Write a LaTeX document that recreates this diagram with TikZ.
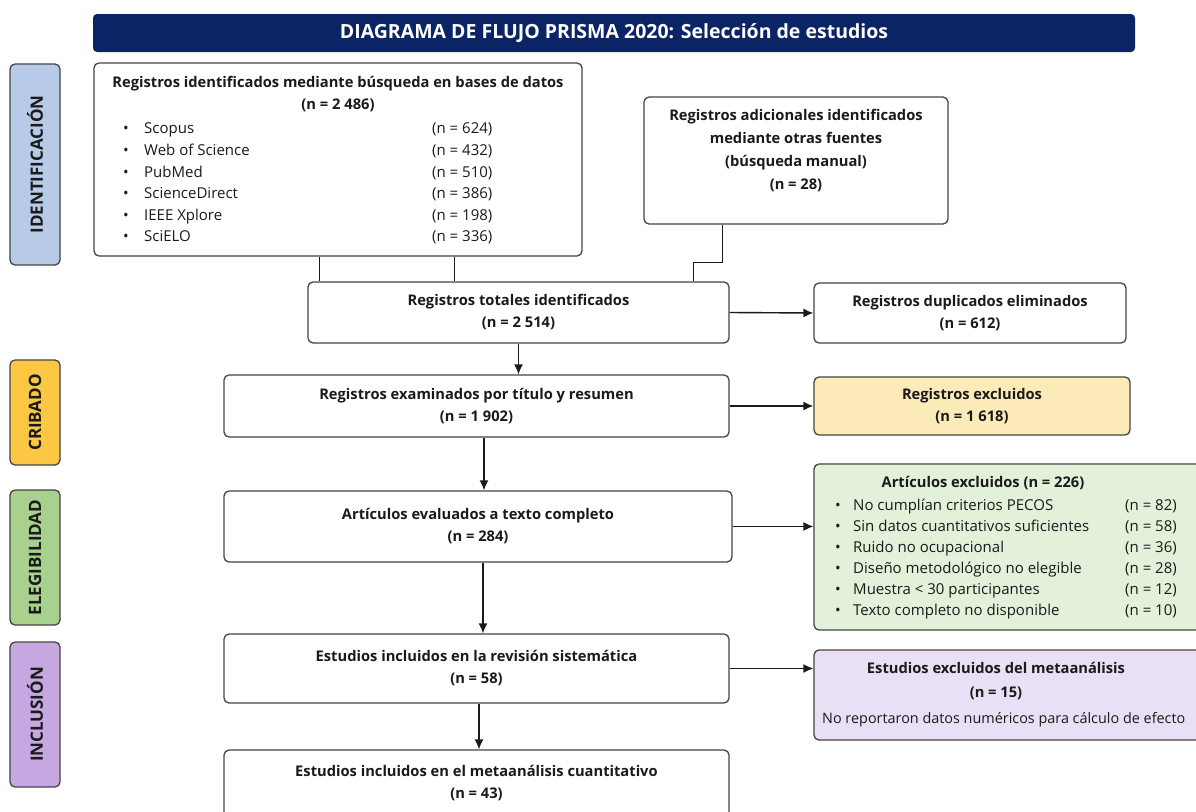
\documentclass[tikz,border=0pt]{standalone}
\usepackage{fontspec}
\setmainfont{Open Sans}
\usetikzlibrary{arrows.meta,positioning}

\definecolor{navy}{HTML}{0B2466}
\definecolor{edge}{HTML}{454545}
\definecolor{ink}{HTML}{1A1A1A}
\definecolor{idblue}{HTML}{B7CBE8}
\definecolor{cribyellow}{HTML}{FCC844}
\definecolor{eleggreen}{HTML}{A9D18E}
\definecolor{inclpurple}{HTML}{C6A7E2}
\definecolor{exclyellow}{HTML}{FCEBB8}
\definecolor{exclgreen}{HTML}{E3F0DA}
\definecolor{exclpurple}{HTML}{EAE0F5}

\begin{document}
\begin{tikzpicture}[x=1pt,y=-1pt,
    box/.style={draw=edge,line width=1.3pt,rounded corners=5pt,fill=white,inner sep=0pt,text=ink},
    phase/.style={draw=edge,line width=1.3pt,rounded corners=5pt,rotate=90,minimum height=50pt,inner sep=0pt,
        font=\fontsize{17}{19}\selectfont\bfseries,text=ink},
    bold/.style={font=\fontsize{14.7}{22}\selectfont\bfseries,align=center,text=ink},
    plain/.style={font=\fontsize{15}{22}\selectfont,anchor=base west,inner sep=0pt,text=ink},
    link/.style={draw=ink,line width=1.4pt},
    arrow/.style={link,-{Latex[length=10pt,width=9pt]}}]

    \useasboundingbox (0,0) rectangle (1196,811);
    \clip (0,0) rectangle (1196,811);
    \fill[white] (0,0) rectangle (1196,811);

    % title banner
    \node[fill=navy,rounded corners=4pt,minimum width=1042pt,minimum height=38pt,text=white,
        font=\fontsize{19.5}{22}\selectfont\bfseries] (title) at (614,33) {DIAGRAMA DE FLUJO PRISMA 2020: Selección de estudios};

    % phases
    \node[phase,fill=idblue,minimum width=201pt] (identificacion) at (35,164.5) {IDENTIFICACIÓN};
    \node[phase,fill=cribyellow,minimum width=105pt] (cribado) at (35,412.5) {CRIBADO};
    \node[phase,fill=eleggreen,minimum width=135pt] (elegibilidad) at (35,557.5) {ELEGIBILIDAD};
    \node[phase,fill=inclpurple,minimum width=145pt] (inclusion) at (35,714.5) {INCLUSIÓN};

    % identification
    \node[box,minimum width=488pt,minimum height=193pt] (busqueda) at (338,159.5) {};
    \node[bold] (busquedatit) at (338,94) {Registros identificados mediante búsqueda en bases de datos\\(n = 2 486)};
    \node[plain] (scopus) at (123,133) {\makebox[21pt][l]{•}Scopus};
    \node[plain] (wos) at (123,155) {\makebox[21pt][l]{•}Web of Science};
    \node[plain] (pubmed) at (123,177) {\makebox[21pt][l]{•}PubMed};
    \node[plain] (sciencedirect) at (123,198) {\makebox[21pt][l]{•}ScienceDirect};
    \node[plain] (ieee) at (123,220) {\makebox[21pt][l]{•}IEEE Xplore};
    \node[plain] (scielo) at (123,241) {\makebox[21pt][l]{•}SciELO};
    \node[plain] (nscopus) at (432,133) {(n = 624)};
    \node[plain] (nwos) at (432,155) {(n = 432)};
    \node[plain] (npubmed) at (432,177) {(n = 510)};
    \node[plain] (nsciencedirect) at (432,198) {(n = 386)};
    \node[plain] (nieee) at (432,220) {(n = 198)};
    \node[plain] (nscielo) at (432,241) {(n = 336)};

    \node[box,minimum width=304pt,minimum height=127pt] (manual) at (796,160.5) {};
    \node[bold,font=\fontsize{14.7}{23}\selectfont\bfseries] (manualtit) at (796,150.5) {Registros adicionales identificados\\mediante otras fuentes\\(búsqueda manual)\\(n = 28)};

    \node[box,bold,minimum width=421pt,minimum height=61pt] (totales) at (518.5,312.5) {Registros totales identificados\\(n = 2 514)};
    \node[box,bold,minimum width=312pt,minimum height=60pt] (duplicados) at (970,313) {Registros duplicados eliminados\\(n = 612)};

    % screening
    \node[box,bold,minimum width=505pt,minimum height=62pt] (examinados) at (476.5,406) {Registros examinados por título y resumen\\(n = 1 902)};
    \node[box,bold,fill=exclyellow,minimum width=316pt,minimum height=58pt] (excluidos) at (972,406) {Registros excluidos\\(n = 1 618)};

    % eligibility
    \node[box,bold,minimum width=508pt,minimum height=71pt] (articulos) at (478,526.5) {Artículos evaluados a texto completo\\(n = 284)};
    \node[box,fill=exclgreen,minimum width=402pt,minimum height=166pt] (pecos) at (1015,547) {};
    \node[bold] (pecostit) at (983,483) {Artículos excluidos (n = 226)};
    \node[plain] (criterios) at (835,510) {\makebox[18pt][l]{•}No cumplían criterios PECOS};
    \node[plain] (sindatos) at (835,531) {\makebox[18pt][l]{•}Sin datos cuantitativos suficientes};
    \node[plain] (ruido) at (835,552) {\makebox[18pt][l]{•}Ruido no ocupacional};
    \node[plain] (diseno) at (835,573) {\makebox[18pt][l]{•}Diseño metodológico no elegible};
    \node[plain] (muestra) at (835,594) {\makebox[18pt][l]{•}Muestra < 30 participantes};
    \node[plain] (texto) at (835,615) {\makebox[18pt][l]{•}Texto completo no disponible};
    \node[plain] (ncriterios) at (1125,510) {(n = 82)};
    \node[plain] (nsindatos) at (1125,531) {(n = 58)};
    \node[plain] (nruido) at (1125,552) {(n = 36)};
    \node[plain] (ndiseno) at (1125,573) {(n = 28)};
    \node[plain] (nmuestra) at (1125,594) {(n = 12)};
    \node[plain] (ntexto) at (1125,615) {(n = 10)};

    % inclusion
    \node[box,bold,minimum width=505pt,minimum height=69pt] (incluidos) at (476.5,668.5) {Estudios incluidos en la revisión sistemática\\(n = 58)};
    \node[box,fill=exclpurple,minimum width=402pt,minimum height=90pt] (nometa) at (1015,695) {};
    \node[bold,font=\fontsize{14.7}{24}\selectfont\bfseries] (nometatit) at (996,681) {Estudios excluidos del metaanálisis\\(n = 15)};
    \node[plain,font=\fontsize{14.4}{22}\selectfont] (nometatxt) at (822,723) {No reportaron datos numéricos para cálculo de efecto};

    \node[box,minimum width=505pt,minimum height=80pt] (meta) at (476.5,790) {};
    \node[bold] (metatit) at (476.5,783.5) {Estudios incluidos en el metaanálisis cuantitativo\\(n = 43)};

    % connectors
    \coordinate (dbout1) at ([xshift=226pt]busqueda.south west);
    \coordinate (dbout2) at ([xshift=361pt]busqueda.south west);
    \coordinate (manout) at ([xshift=79pt]manual.south west);
    \coordinate (totin) at ([xshift=-36pt]totales.north east);
    \coordinate (examout) at ([xshift=7.5pt]examinados.south);
    \coordinate (artout) at ([xshift=5pt]articulos.south);
    \coordinate (inclout) at ([xshift=2.5pt]incluidos.south);
    \draw[link] (dbout1) -- (dbout1 |- totales.north);
    \draw[link] (dbout2) -- (dbout2 |- totales.north);
    \draw[link] (manout) -- ++(0,38) -| (totin);

    \draw[arrow] (totales.east) -- (duplicados.west);
    \draw[arrow] (totales.south) -- (totales.south |- examinados.north);
    \draw[arrow] (examinados.east) -- (excluidos.west);
    \draw[arrow] (examout) -- (examout |- articulos.north);
    \draw[arrow] (articulos.east) -- (articulos.east -| pecos.west);
    \draw[arrow] (artout) -- (artout |- incluidos.north);
    \draw[arrow] (incluidos.east) -- (incluidos.east -| nometa.west);
    \draw[arrow] (inclout) -- (inclout |- meta.north);
\end{tikzpicture}
\end{document}
